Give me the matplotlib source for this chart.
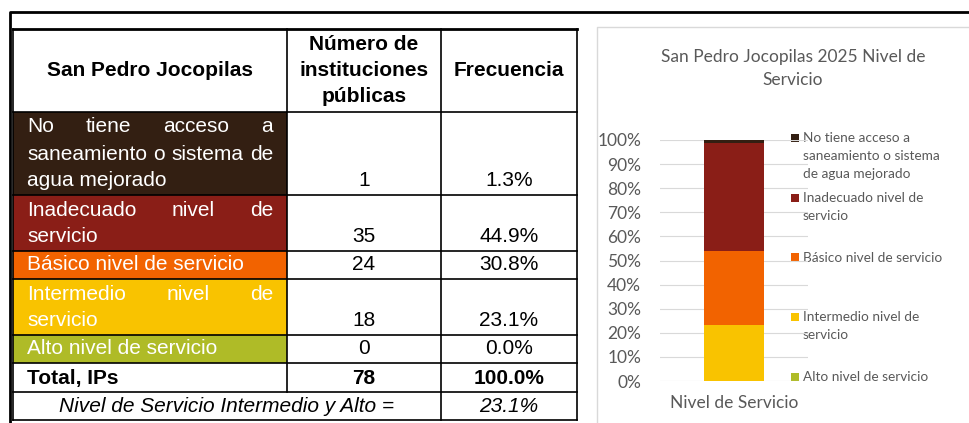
import textwrap
import matplotlib
matplotlib.use("Agg")
import matplotlib.pyplot as plt
from matplotlib.ticker import PercentFormatter

municipio = "San Pedro Jocopilas"
anio = 2025
categorias = ["No tiene acceso a saneamiento o sistema de agua mejorado",
              "Inadecuado nivel de servicio",
              "Básico nivel de servicio",
              "Intermedio nivel de servicio",
              "Alto nivel de servicio"]
etiquetas_leyenda = ["No tiene acceso a\nsaneamiento o sistema\nde agua mejorado",
                     "Inadecuado nivel de\nservicio",
                     "Básico nivel de servicio",
                     "Intermedio nivel de\nservicio",
                     "Alto nivel de servicio"]
instituciones = [1, 35, 24, 18, 0]
colores = ["#331f12", "#8a1e17", "#f26300", "#f9c300", "#afbb27"]
eje_x = "Nivel de Servicio"

total = sum(instituciones)
frecuencias = [n / total for n in instituciones]

W, H = 969, 423
fig = plt.figure(figsize=(W / 100, H / 100), dpi=100)
ax0 = fig.add_axes([0, 0, 1, 1])
ax0.set_xlim(0, W)
ax0.set_ylim(H, 0)
ax0.axis("off")
rend = fig.canvas.get_renderer()

TF = "Liberation Sans"
FS = 15

# marco exterior
ax0.plot([10, 10, W], [H, 12, 12], color="black", lw=2, solid_capstyle="butt")
# marco del grafico
ax0.plot([597, 597, W], [H, 27, 27], color="#d9d9d9", lw=1)

# --- tabla ---
xs = [13, 287, 441, 577]
filas = [29, 112, 195, 251, 279, 335, 363, 392, 420]
cx2 = (xs[1] + xs[2]) / 2
cx3 = (xs[2] + xs[3]) / 2


def justificado(palabras, x0, x1, y, **kw):
    objs = [ax0.text(x0, y, p, va="center", ha="left", **kw) for p in palabras]
    anchos = [o.get_window_extent(rend).width for o in objs]
    hueco = (x1 - x0 - sum(anchos)) / max(len(palabras) - 1, 1)
    x = x0
    for o, w in zip(objs, anchos):
        o.set_x(x)
        x += w + hueco


# fondos de color
for i, c in enumerate(colores):
    ax0.fill_between([xs[0], xs[1]], filas[i + 1], filas[i + 2], color=c, lw=0)

# encabezado
ax0.text((xs[0] + xs[1]) / 2, 71, municipio, ha="center", va="center",
         fontsize=FS, fontweight="bold", family=TF)
for j, t in enumerate(["Número de", "instituciones", "públicas"]):
    ax0.text(cx2, 45 + 26 * j, t, ha="center", va="center",
             fontsize=FS, fontweight="bold", family=TF)
ax0.text(cx3, 71, "Frecuencia", ha="center", va="center",
         fontsize=FS, fontweight="bold", family=TF)

paso = 27
for i, cat in enumerate(categorias):
    top, bot = filas[i + 1], filas[i + 2]
    lineas = textwrap.wrap(cat, 24)
    yb = bot - 14
    for j, ln in enumerate(lineas):
        y = yb - paso * (len(lineas) - 1 - j)
        if j < len(lineas) - 1:
            justificado(ln.split(), 27, 273, y, fontsize=FS, family=TF, color="white")
        else:
            ax0.text(27, y, ln, ha="left", va="center", fontsize=FS, family=TF,
                     color="white")
    ax0.text(cx2, yb, f"{instituciones[i]}", ha="center", va="center",
             fontsize=FS, family=TF)
    ax0.text(cx3, yb, f"{frecuencias[i]:.1%}", ha="center", va="center",
             fontsize=FS, family=TF)

yt = (filas[6] + filas[7]) / 2 + 1
ax0.text(27, yt, "Total, IPs", ha="left", va="center", fontsize=FS,
         fontweight="bold", family=TF)
ax0.text(cx2, yt, f"{total}", ha="center", va="center", fontsize=FS,
         fontweight="bold", family=TF)
ax0.text(cx3, yt, f"{sum(frecuencias):.1%}", ha="center", va="center", fontsize=FS,
         fontweight="bold", family=TF)
yn = (filas[7] + filas[8]) / 2 + 1
ax0.text((xs[0] + xs[2]) / 2, yn, "Nivel de Servicio Intermedio y Alto =",
         ha="center", va="center", fontsize=FS, style="italic", family=TF)
ax0.text(cx3, yn, f"{frecuencias[3] + frecuencias[4]:.1%}", ha="center",
         va="center", fontsize=FS, style="italic", family=TF)

# lineas de la tabla
for k, y in enumerate(filas):
    ax0.plot([xs[0], xs[3]], [y, y], color="black", lw=2 if k == 0 else 1.2)
for k, x in enumerate(xs):
    yfin = filas[7] if k == 1 else filas[8]
    ax0.plot([x, x], [filas[0], yfin], color="black", lw=1.2)

# --- grafico ---
gris = "#595959"
CF = "Lato"
ax0.text(793, 57, f"{municipio} {anio} Nivel de", ha="center", va="center",
         fontsize=12.5, color=gris, family=CF)
ax0.text(793, 80, "Servicio", ha="center", va="center",
         fontsize=12.5, color=gris, family=CF)

ax = fig.add_axes([660 / W, (H - 381) / H, 148 / W, 241 / H])
base = 0
for k in range(len(categorias) - 1, -1, -1):
    ax.bar([0], [frecuencias[k]], bottom=base, width=0.405, color=colores[k], zorder=3)
    base += frecuencias[k]
ax.set_xlim(-0.5, 0.5)
ax.set_ylim(0, 1)
ax.set_yticks([i / 10 for i in range(11)])
ax.yaxis.set_major_formatter(PercentFormatter(1, decimals=0))
ax.set_xticks([0], [eje_x])
ax.tick_params(axis="y", length=0, pad=13.5, labelsize=12.5, labelcolor=gris)
ax.tick_params(axis="x", length=0, pad=10, labelsize=12.5, labelcolor=gris)
for lb in ax.get_xticklabels() + ax.get_yticklabels():
    lb.set_family(CF)
ax.grid(axis="y", color="#d9d9d9", lw=0.8, zorder=0)
for s in ax.spines.values():
    s.set_visible(False)
ax.patch.set_alpha(0)

# leyenda
for k, et in enumerate(etiquetas_leyenda):
    y0 = 138 + 59.75 * k
    ax0.scatter([795.5], [y0], marker="s", s=30, color=colores[k], lw=0)
    for j, ln in enumerate(et.split("\n")):
        ax0.text(803, y0 + 18 * j, ln, ha="left", va="center", fontsize=9.8,
                 color=gris, family=CF)

fig.savefig("out.png", dpi=100)
